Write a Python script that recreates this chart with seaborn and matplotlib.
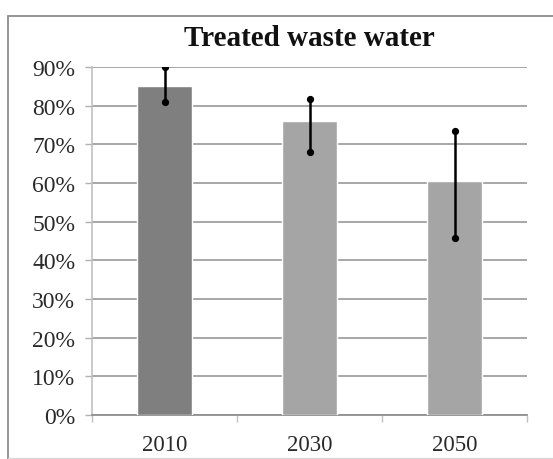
import matplotlib
matplotlib.use("Agg")
import matplotlib.pyplot as plt
import seaborn as sns
import pandas as pd
from matplotlib.lines import Line2D
from matplotlib.ticker import FuncFormatter, FixedLocator

years = ["2010", "2030", "2050"]
values = [0.85, 0.76, 0.605]
err_low = [0.81, 0.681, 0.457]
err_high = [0.90, 0.816, 0.735]
bar_colors = ["#7f7f7f", "#a5a5a5", "#a5a5a5"]
yticks = [0, 0.1, 0.2, 0.3, 0.4, 0.5, 0.6, 0.7, 0.8, 0.9]

sns.set_style("white")
plt.rcParams["font.family"] = ["Liberation Serif", "DejaVu Serif"]

df = pd.DataFrame({"year": years, "value": values})

W, H = 553, 460
fig = plt.figure(figsize=(W / 100, H / 100), dpi=100)
ax = fig.add_axes([92 / W, (H - 416) / H, (527 - 92) / W, (416 - 68) / H])

sns.barplot(data=df, x="year", y="value", hue="year", palette=bar_colors,
            width=0.386, errorbar=None, legend=False, ax=ax, saturation=1, zorder=3)

xs = list(range(len(years)))
for i, (lo, hi) in enumerate(zip(err_low, err_high)):
    ax.plot([xs[i], xs[i]], [lo, hi], color="black", lw=1.8, zorder=5)
    ax.plot([xs[i], xs[i]], [lo, hi], color="black", lw=0, marker="o", ms=4.2, zorder=6)

ax.set_ylim(0, 0.9)
ax.set_xlim(-0.5, 2.5)
ax.set_yticks(yticks)
ax.yaxis.set_major_formatter(FuncFormatter(lambda v, p: f"{round(v*100)}%"))
ax.yaxis.grid(True, color="#a0a0a0", lw=1.3, zorder=0)
ax.set_axisbelow(True)
ax.set_xlabel("")
ax.set_ylabel("")

for s in ["top", "right"]:
    ax.spines[s].set_visible(False)
ax.spines["left"].set_color("#c0c0c0")
ax.spines["left"].set_linewidth(1.2)
ax.spines["bottom"].set_color("#909090")
ax.spines["bottom"].set_linewidth(1.3)

ax.tick_params(axis="y", which="major", length=5, width=1, color="#b0b0b0",
               direction="out", labelsize=17, pad=7, left=True)
ax.tick_params(axis="x", which="major", length=0, labelsize=16.5, pad=14)
ax.xaxis.set_minor_locator(FixedLocator([-0.5, 0.5, 1.5, 2.5]))
ax.tick_params(axis="x", which="minor", length=5, width=1, color="#c0c0c0",
               direction="out", bottom=True)

for lab in ax.get_xticklabels() + ax.get_yticklabels():
    lab.set_color("#2a2a2a")

fig.text(309 / W, 1 - 39 / H, "Treated waste water", ha="center", va="center",
         fontsize=21, fontweight="bold", color="#111111")

# outer chart frame (top and left edges visible, bottom faint)
fig.lines.append(Line2D([8 / W, 1.0], [1 - 17 / H, 1 - 17 / H], transform=fig.transFigure,
                        color="#8c8c8c", lw=1.3))
fig.lines.append(Line2D([8 / W, 8 / W], [0, 1 - 17 / H], transform=fig.transFigure,
                        color="#8c8c8c", lw=1.3))
fig.lines.append(Line2D([8 / W, 1.0], [1 / H, 1 / H], transform=fig.transFigure,
                        color="#d8d8d8", lw=1.0))

fig.savefig("out.png", dpi=100)
